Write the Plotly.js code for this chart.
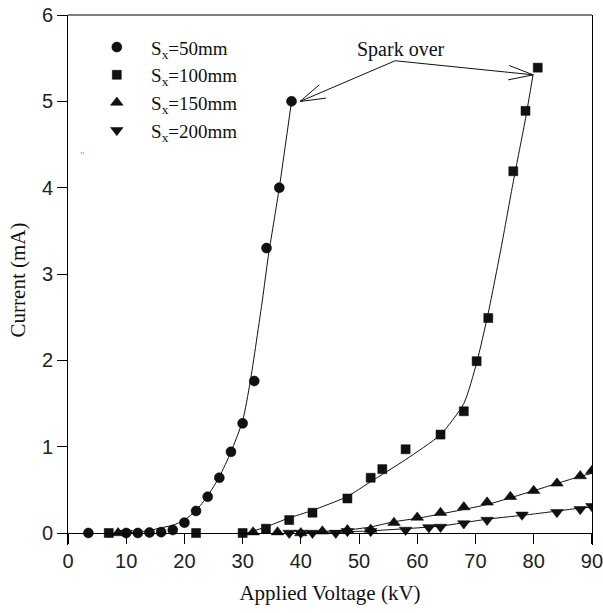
<!DOCTYPE html>
<html>
<head>
<meta charset="utf-8">
<script src="https://cdn.plot.ly/plotly-3.0.1.min.js"></script>
<style>html,body{margin:0;padding:0;background:#fff;}#chart{width:603px;height:613px;}</style>
</head>
<body>
<div id="chart"></div>
<script>
// ---- measured data (Applied Voltage kV, Current mA) ----
const s50_x = [3.5, 10, 12, 14, 16, 18, 20, 22, 24, 26, 28, 30, 32, 34.1, 36.3, 38.4];
const s50_y = [0, 0, 0, 0.005, 0.01, 0.035, 0.12, 0.255, 0.42, 0.64, 0.94, 1.27, 1.76, 3.3, 4.0, 5.0];

const s100_x = [7, 22, 30, 34, 38, 42, 48, 52, 54, 58, 64, 68, 70.2, 72.2, 76.5, 78.6, 80.7];
const s100_y = [0, 0, 0, 0.05, 0.15, 0.235, 0.40, 0.64, 0.74, 0.97, 1.14, 1.41, 1.99, 2.49, 4.19, 4.89, 5.39];

const s150_x = [8.6, 31.8, 36, 40, 43.7, 48, 52, 56, 60, 64, 68, 72, 76, 80, 84, 88, 90];
const s150_y = [0, 0.01, 0.01, 0, 0.02, 0.035, 0.04, 0.12, 0.18, 0.235, 0.30, 0.355, 0.42, 0.49, 0.575, 0.66, 0.72];

const s200_x = [10, 38, 40, 42, 46, 48, 52, 58, 62, 64, 68, 72, 78, 84, 88, 90];
const s200_y = [0, 0, 0, 0, 0, 0.02, 0.02, 0.035, 0.065, 0.07, 0.11, 0.15, 0.21, 0.24, 0.275, 0.31];

// fitted curves
const f50_x = [8, 12, 14, 16, 18, 20, 22, 24, 26, 28, 30, 31.3, 33.4, 34.4, 36.3, 38.4];
const f50_y = [0, 0.01, 0.03, 0.06, 0.09, 0.15, 0.26, 0.43, 0.65, 0.94, 1.3, 1.75, 2.7, 3.2, 4.0, 5.0];

const f100_x = [30.7, 34, 37.8, 41.9, 47.9, 51.9, 58, 64, 68, 70.2, 72.2, 74.4, 76.5, 78.6, 79.9];
const f100_y = [0, 0.07, 0.17, 0.26, 0.42, 0.59, 0.85, 1.14, 1.5, 1.97, 2.55, 3.3, 4.07, 4.8, 5.31];

const f150_x = [40, 44, 48, 52, 56, 60, 64, 72, 80, 88.2, 90];
const f150_y = [0, 0.02, 0.035, 0.07, 0.13, 0.17, 0.22, 0.33, 0.49, 0.66, 0.69];

const f200_x = [40, 48, 52, 58, 64, 72, 80, 88.2, 90];
const f200_y = [0, 0.015, 0.025, 0.05, 0.08, 0.16, 0.22, 0.29, 0.30];

// "Spark over" label and arrow geometry (data units)
const sparkLabel = {x: 57.2, y: 5.60, text: 'Spark over'};
const arrowTail = [56.2, 5.47];
const arrowTips = [[39.85, 4.998], [79.92, 5.307]];

const legendNames = ['S<sub>x</sub>=50mm', 'S<sub>x</sub>=100mm', 'S<sub>x</sub>=150mm', 'S<sub>x</sub>=200mm'];
const xTicks = [0, 10, 20, 30, 40, 50, 60, 70, 80, 90];
const yTicks = [0, 1, 2, 3, 4, 5, 6];

const serif = 'Liberation Serif, Times New Roman, serif';
const sans = 'Liberation Sans, Arial, sans-serif';
const ink = '#111';

function fit(x, y) {
  return {x: x, y: y, mode: 'lines', line: {color: ink, width: 1, shape: 'spline', smoothing: 0.6},
          showlegend: false, hoverinfo: 'skip'};
}
function pts(x, y, name, symbol, size) {
  return {x: x, y: y, mode: 'markers', name: '\u00a0\u00a0\u00a0' + name,
          marker: {symbol: symbol, size: size, color: ink, line: {color: '#000', width: 0.5}}};
}

const data = [
  fit(f50_x, f50_y), fit(f100_x, f100_y), fit(f150_x, f150_y), fit(f200_x, f200_y),
  pts(s50_x, s50_y, legendNames[0], 'circle', 10),
  pts(s100_x, s100_y, legendNames[1], 'square', 9),
  pts(s150_x, s150_y, legendNames[2], 'triangle-up', 11),
  pts(s200_x, s200_y, legendNames[3], 'triangle-down', 11)
];

const yMin = -0.139, yMax = 6;

const shapes = [
  {type: 'line', xref: 'paper', yref: 'paper', x0: 0, x1: 1, y0: 1, y1: 1, line: {color: '#000', width: 1}},
  {type: 'path', xref: 'x', yref: 'y', xsizemode: 'pixel', ysizemode: 'pixel', xanchor: arrowTips[0][0], yanchor: arrowTips[0][1],
   path: 'M19.3,16.7L0,0L26,3.4', line: {color: ink, width: 1}},
  {type: 'path', xref: 'x', yref: 'y', xsizemode: 'pixel', ysizemode: 'pixel', xanchor: arrowTips[1][0], yanchor: arrowTips[1][1],
   path: 'M-24,9.3L0,0L-25,-5', line: {color: ink, width: 1}}
];
arrowTips.forEach(function (t) {
  shapes.push({type: 'line', xref: 'x', yref: 'y', x0: arrowTail[0], y0: arrowTail[1], x1: t[0], y1: t[1],
               line: {color: ink, width: 1}});
});

const layout = {
  width: 603, height: 613,
  margin: {l: 68, r: 11, t: 15, b: 68},
  paper_bgcolor: '#fff', plot_bgcolor: '#fff',
  showlegend: true,
  legend: {x: 0.055, y: 0.975, xanchor: 'left', yanchor: 'top', bgcolor: 'rgba(0,0,0,0)',
           font: {family: serif, size: 19, color: ink}, traceorder: 'normal'},
  xaxis: {range: [0, 90.02], tickvals: xTicks, ticktext: xTicks.map(String),
          showgrid: false, zeroline: false, showline: true, linecolor: '#000', linewidth: 1,
          ticks: 'outside', ticklen: 10, tickcolor: '#000', tickwidth: 1, ticklabeloverflow: 'allow',
          anchor: 'free', position: (0 - yMin) / (yMax - yMin),
          tickfont: {family: sans, size: 20, color: '#222'},
          title: {text: 'Applied Voltage (kV)', font: {family: serif, size: 21, color: ink}, standoff: 14}},
  yaxis: {range: [yMin, yMax], tickvals: yTicks, ticktext: yTicks.map(String),
          showgrid: false, zeroline: false, showline: true, mirror: true, linecolor: '#000', linewidth: 1,
          ticks: 'outside', ticklen: 10, tickcolor: '#000', tickwidth: 1,
          tickfont: {family: sans, size: 20, color: '#222'},
          title: {text: 'Current (mA)', font: {family: serif, size: 21, color: ink}, standoff: 10}},
  shapes: shapes,
  annotations: [
    {x: sparkLabel.x, y: sparkLabel.y, xref: 'x', yref: 'y', text: sparkLabel.text, showarrow: false,
     font: {family: serif, size: 20, color: ink}},
    {x: 0.019, y: 0.751, xref: 'paper', yref: 'paper', text: '"', showarrow: false,
     font: {family: serif, size: 11, color: '#999'}}
  ]
};

Plotly.newPlot('chart', data, layout, {displayModeBar: false, staticPlot: true});
</script>
</body>
</html>
